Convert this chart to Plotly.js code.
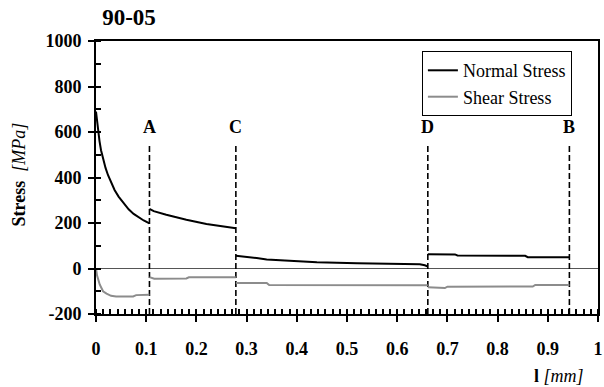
<!DOCTYPE html>
<html>
<head>
<meta charset="utf-8">
<script src="https://cdn.plot.ly/plotly-3.0.1.min.js"></script>
<style>html,body{margin:0;padding:0;background:#fff;}#chart{width:604px;height:387px;}</style>
</head>
<body>
<div id="chart"></div>
<script>
// Normal stress segments (l [mm], stress [MPa])
const normalX1 = [0, 0.002, 0.004, 0.007, 0.010, 0.014, 0.019, 0.024, 0.030, 0.037, 0.045, 0.055, 0.065, 0.075, 0.085, 0.095, 0.1065];
const normalY1 = [690, 650, 610, 560, 520, 480, 442, 410, 376, 345, 316, 286, 260, 240, 224, 211, 198];
const normalX2 = [0.1065, 0.115, 0.14, 0.18, 0.22, 0.26, 0.2786];
const normalY2 = [262, 252, 236, 214, 196, 182, 177];
const normalX3 = [0.2786, 0.30, 0.32, 0.34, 0.39, 0.44, 0.52, 0.60, 0.645, 0.655, 0.661];
const normalY3 = [56, 52, 46, 40, 32, 27, 23, 21, 19, 14, 9];
const normalX4 = [0.661, 0.715, 0.72, 0.855, 0.86, 0.943];
const normalY4 = [63, 62, 57, 56, 50, 50];

// Shear stress segments
const shearX1 = [0, 0.002, 0.0074, 0.014, 0.021, 0.03, 0.04, 0.074, 0.08, 0.1065];
const shearY1 = [0, -30, -70, -100, -110, -120, -123, -123, -117, -115];
const shearX2 = [0.1065, 0.116, 0.18, 0.185, 0.2786];
const shearY2 = [-38, -45, -44, -39, -38];
const shearX3 = [0.2786, 0.34, 0.345, 0.661];
const shearY3 = [-64, -64, -73, -74];
const shearX4 = [0.661, 0.695, 0.70, 0.87, 0.875, 0.943];
const shearY4 = [-82, -86, -80, -79, -72, -72];

// Section markers
const markerLabels = ['A', 'C', 'D', 'B'];
const markerX = [0.1065, 0.2786, 0.661, 0.943];
const markerBottom = -200;
const markerTop = 550;
const markerLabelY = 620;

const xTickVals = [0, 0.1, 0.2, 0.3, 0.4, 0.5, 0.6, 0.7, 0.8, 0.9, 1];
const xTickText = ['0', '0.1', '0.2', '0.3', '0.4', '0.5', '0.6', '0.7', '0.8', '0.9', '1'];
const yTickVals = [-200, 0, 200, 400, 600, 800, 1000];
const yTickText = ['-200', '0', '200', '400', '600', '800', '1000'];

function join(...segs) {
  const xs = [], ys = [];
  for (let i = 0; i < segs.length; i += 2) {
    if (xs.length) { xs.push(null); ys.push(null); }
    xs.push(...segs[i]); ys.push(...segs[i + 1]);
  }
  return [xs, ys];
}

const [nx, ny] = join(normalX1, normalY1, normalX2, normalY2, normalX3, normalY3, normalX4, normalY4);
const [sx, sy] = join(shearX1, shearY1, shearX2, shearY2, shearX3, shearY3, shearX4, shearY4);

const serif = 'Liberation Serif';
const bold = (s) => '<b>' + s + '</b>';

const traces = [];
markerX.forEach((x) => {
  traces.push({
    x: [x, x], y: [markerBottom, markerTop], mode: 'lines', showlegend: false, hoverinfo: 'skip',
    line: {color: '#000', width: 1.6, dash: '6px,3px'}
  });
});
traces.push({x: nx, y: ny, mode: 'lines', name: 'Normal Stress', connectgaps: false,
  line: {color: '#000', width: 2}});
traces.push({x: sx, y: sy, mode: 'lines', name: 'Shear Stress', connectgaps: false,
  line: {color: '#8c8c8c', width: 2}});

const annotations = markerLabels.map((t, i) => ({
  x: markerX[i], y: markerLabelY, xref: 'x', yref: 'y', text: bold(t),
  showarrow: false, font: {family: serif, size: 18, color: '#000'}
}));
annotations.push({x: 0, y: 0.5, xref: 'paper', yref: 'paper', xanchor: 'center', yanchor: 'middle',
  text: '<b>Stress</b>  <i>[MPa]</i>', textangle: -90, showarrow: false,
  font: {family: serif, size: 18, color: '#000'}, xshift: -78, yshift: 3});
annotations.push({x: 0.922, y: 0, xref: 'paper', yref: 'paper', xanchor: 'center', yanchor: 'middle',
  text: '<b>l</b> <i>[mm]</i>', showarrow: false, yshift: -62,
  font: {family: serif, size: 18, color: '#000'}});

const layout = {
  width: 604, height: 387,
  margin: {l: 96, r: 6, t: 41, b: 73},
  paper_bgcolor: '#fff', plot_bgcolor: '#fff',
  font: {family: serif, color: '#000', size: 17},
  title: {text: bold('90-05'), x: 129 / 604, xanchor: 'center', y: 1 - 17 / 387, yanchor: 'middle',
    font: {family: serif, size: 23, color: '#000'}},
  xaxis: {
    range: [0, 1], tickvals: xTickVals, ticktext: xTickText.map(bold),
    showgrid: false, zeroline: false, showline: true, linecolor: '#000', linewidth: 2, mirror: true,
    ticks: 'outside', ticklen: 6, tickwidth: 2, tickcolor: '#000', ticklabelstandoff: 11,
    tickfont: {family: serif, size: 18, color: '#000'},
    minor: {dtick: 0.1 / 7, tick0: 0, ticks: 'inside', ticklen: 5, tickwidth: 2, tickcolor: '#000', showgrid: false}
  },
  yaxis: {
    range: [-200, 1000], tickvals: yTickVals, ticktext: yTickText.map(bold),
    showgrid: false, zeroline: true, zerolinecolor: '#555', zerolinewidth: 1.2,
    showline: true, linecolor: '#000', linewidth: 2, mirror: true,
    ticks: 'outside', ticklen: 6, tickwidth: 2, tickcolor: '#000', ticklabelstandoff: 3,
    tickfont: {family: serif, size: 18, color: '#000'},
    minor: {dtick: 100, tick0: 0, ticks: 'inside', ticklen: 5, tickwidth: 2, tickcolor: '#000', showgrid: false}
  },
  legend: {
    x: 0.948, y: 0.963, xanchor: 'right', yanchor: 'top',
    bgcolor: '#fff', bordercolor: '#000', borderwidth: 1,
    font: {family: serif, size: 18, color: '#000'},
    tracegroupgap: 0, itemwidth: 30
  },
  annotations: annotations,
  showlegend: true
};

Plotly.newPlot('chart', traces, layout, {displayModeBar: false, staticPlot: true});
</script>
</body>
</html>
